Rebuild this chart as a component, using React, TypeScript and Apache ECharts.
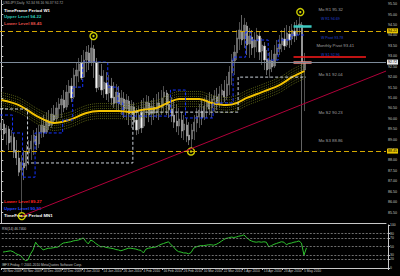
import React, { useEffect, useRef } from 'react';
import * as echarts from 'echarts';

const FONT = 'Liberation Sans, Arial, sans-serif';
const N_SLOTS = 154;

// Daily candles: [open, close, low, high]
const ohlc: number[][] = [
  [89.46, 89.80, 89.22, 90.04], [89.75, 89.27, 88.98, 89.94], [89.32, 89.56, 88.74, 89.70], [89.51, 88.84, 88.50, 89.65],
  [88.88, 89.17, 88.50, 89.46], [89.12, 88.40, 88.12, 89.32], [88.50, 88.12, 87.78, 88.98], [88.12, 87.44, 87.25, 88.50],
  [87.54, 87.92, 85.52, 88.26], [87.88, 87.64, 87.06, 88.50], [87.73, 88.40, 87.54, 88.74], [88.36, 88.60, 87.78, 88.98],
  [88.55, 88.93, 88.02, 89.22], [88.88, 89.22, 88.26, 89.46], [89.17, 88.74, 88.50, 89.56], [88.79, 89.36, 88.60, 89.70],
  [89.36, 89.70, 89.08, 90.04], [89.65, 89.32, 89.12, 90.18], [89.36, 89.94, 89.27, 90.32], [89.89, 89.65, 89.46, 90.42],
  [89.70, 90.23, 89.56, 90.52], [90.18, 89.94, 89.75, 90.66], [89.99, 90.52, 89.84, 90.80], [90.47, 90.71, 90.04, 91.00],
  [90.66, 90.95, 90.04, 91.14], [90.90, 90.52, 90.32, 91.38], [90.56, 91.28, 90.42, 91.62], [91.24, 91.57, 90.66, 91.86],
  [91.57, 91.00, 90.80, 91.96], [91.04, 92.10, 90.95, 92.44], [92.05, 92.34, 91.48, 92.72], [92.29, 92.63, 91.76, 92.92],
  [92.68, 91.96, 91.86, 93.06], [92.00, 92.82, 91.96, 93.30], [92.82, 93.20, 92.24, 93.49], [93.16, 92.68, 92.34, 93.54],
  [92.72, 93.40, 92.53, 93.88], [93.35, 92.72, 91.96, 93.54], [92.72, 91.48, 91.28, 92.92], [91.52, 92.10, 91.38, 92.72],
  [92.05, 91.38, 91.14, 92.63], [91.43, 91.76, 91.00, 92.34], [91.72, 91.19, 90.90, 92.24], [91.24, 91.62, 90.80, 92.10],
  [91.57, 91.00, 90.66, 91.96], [91.04, 90.71, 90.52, 91.76], [90.76, 91.28, 90.42, 91.67], [91.24, 90.71, 90.32, 91.57],
  [90.66, 91.00, 90.18, 91.38], [90.95, 90.42, 90.04, 91.28], [90.47, 90.90, 89.94, 91.19], [90.85, 90.23, 89.70, 91.09],
  [90.28, 90.61, 89.56, 90.90], [90.56, 89.84, 89.46, 90.80], [89.94, 89.46, 89.22, 90.52], [89.51, 90.18, 89.27, 90.61],
  [90.28, 89.56, 89.32, 90.90], [89.65, 90.52, 89.56, 91.00], [90.47, 90.80, 90.04, 91.14], [90.76, 90.18, 89.84, 91.09],
  [90.23, 90.61, 89.70, 90.90], [90.56, 90.28, 89.94, 91.00], [90.32, 90.76, 90.04, 91.19], [90.76, 90.52, 89.94, 91.28],
  [90.52, 91.00, 90.18, 91.38], [91.04, 91.28, 90.32, 91.57], [91.24, 90.66, 90.18, 91.38], [90.71, 90.42, 90.04, 91.19],
  [90.47, 90.13, 89.84, 91.04], [90.18, 89.84, 89.56, 90.90], [89.89, 89.65, 89.36, 90.71], [89.65, 89.99, 89.22, 90.52],
  [89.94, 89.41, 89.08, 90.32], [89.46, 89.75, 88.98, 90.18], [89.70, 89.17, 88.88, 90.04], [89.22, 88.98, 88.74, 89.84],
  [89.03, 89.46, 88.60, 89.75], [89.41, 89.84, 88.98, 90.18], [89.80, 90.13, 89.36, 90.52], [90.08, 90.42, 89.56, 90.71],
  [90.37, 90.04, 89.70, 90.90], [90.08, 90.61, 89.94, 91.00], [90.56, 90.90, 90.04, 91.14], [90.85, 90.47, 90.18, 91.28],
  [90.52, 90.95, 90.04, 91.19], [90.90, 91.09, 90.32, 91.38], [91.04, 90.71, 90.42, 91.48], [90.76, 91.19, 90.52, 91.57],
  [91.14, 91.38, 90.66, 91.67], [91.33, 91.04, 90.80, 91.86], [91.09, 91.67, 90.90, 92.05], [91.62, 92.24, 91.14, 92.53],
  [92.20, 92.82, 91.62, 93.11], [92.77, 93.20, 92.10, 93.54], [93.16, 93.88, 92.82, 94.26], [93.83, 94.26, 93.30, 94.64],
  [94.21, 93.78, 93.54, 94.98], [93.83, 94.50, 93.40, 94.84], [94.45, 93.54, 93.06, 94.64], [93.59, 93.97, 92.92, 94.36],
  [93.92, 93.40, 93.06, 94.26], [93.44, 93.78, 92.92, 94.16], [93.73, 94.02, 93.20, 94.36], [93.97, 93.20, 92.82, 94.16],
  [93.25, 93.54, 92.58, 93.88], [93.49, 92.82, 92.34, 93.68], [92.87, 92.34, 92.10, 93.30], [92.39, 92.82, 91.96, 93.20],
  [92.77, 92.48, 92.24, 93.30], [92.53, 93.11, 92.44, 93.54], [93.06, 93.40, 92.82, 93.78], [93.35, 93.59, 93.06, 94.02],
  [93.54, 93.88, 93.20, 94.26], [93.83, 93.49, 93.30, 94.36], [93.54, 94.12, 93.44, 94.50], [94.07, 93.78, 93.40, 94.45],
  [93.83, 94.26, 93.54, 94.55], [94.21, 93.97, 93.68, 94.64], [94.02, 94.45, 93.78, 94.74], [94.40, 94.55, 94.02, 94.88],
  [94.50, 92.72, 88.40, 94.64], [92.34, 92.72, 90.37, 93.16],
];

const rsi: number[] = [
  37, 38, 39, 40, 38, 34, 31, 29, 22, 17, 19, 33, 42, 60, 52, 48, 42, 44, 46, 46,
  47, 48, 49, 54, 58, 59, 60, 61, 63, 64, 65, 67, 70, 62, 56, 65, 62, 57, 53, 49,
  50, 48, 47, 46, 45, 43, 42, 40, 42, 44, 46, 46, 45, 44, 42, 41, 35, 44, 46, 47,
  48, 49, 52, 55, 57, 59, 61, 54, 49, 42, 38, 37, 35, 35, 33, 36, 46, 49, 51, 52,
  52, 53, 54, 54, 53, 55, 58, 62, 66, 69, 70, 72, 71, 72, 74, 75, 77, 72, 66, 63,
  61, 60, 61, 60, 61, 60, 49, 52, 55, 57, 59, 61, 60, 54, 57, 58, 60, 61, 63, 58,
  30, 46.74,
];

// Moving average read at chosen bars: [bar, price]
const maPoints: number[][] = [
  [0, 90.90], [7, 90.66], [15, 90.08], [21, 89.80], [27, 89.94], [34, 90.28], [39, 90.37], [47, 90.37],
  [52, 90.32], [56, 90.42], [62, 90.52], [67, 90.80], [71, 90.95], [79, 90.95], [84, 90.76], [90, 90.66],
  [94, 90.76], [98, 91.00], [104, 91.28], [111, 91.62], [116, 92.00], [120, 92.24], [121, 92.29],
];
const bandOffsets = [-0.36, -0.24, -0.12, 0.12, 0.24, 0.36];

// Step levels: [first bar, last bar, price]
const blueSteps: number[][] = [
  [0, 4, 90.18], [5, 8, 89.32], [9, 13, 87.20], [14, 24, 89.32], [25, 28, 89.94], [29, 32, 91.52],
  [33, 42, 92.72], [43, 46, 91.52], [47, 48, 90.76], [49, 67, 90.13], [68, 73, 91.38], [74, 84, 90.04],
  [85, 92, 90.76], [93, 97, 92.96], [98, 99, 94.16], [100, 106, 93.78], [107, 110, 92.82], [111, 115, 93.78],
  [116, 121, 94.02],
];
const graySteps: number[][] = [[0, 10, 90.47], [11, 52, 87.88], [53, 94, 90.32], [95, 121, 92.00]];

const dateTickIdx = [0, 8, 16, 24, 32, 40, 48, 56, 64, 72, 80, 88, 96, 104, 112, 120];
const dateTicks = [
  '20 Nov 2009', '30 Nov 2009', '10 Dec 2009', '22 Dec 2009', '4 Jan 2010', '14 Jan 2010', '26 Jan 2010',
  '4 Feb 2010', '16 Feb 2010', '26 Feb 2010', '10 Mar 2010', '22 Mar 2010', '1 Apr 2010', '13 Apr 2010',
  '23 Apr 2010', '5 May 2010',
];

const rsiTicks = [0, 20, 30, 50, 70, 80, 100];
const rsiLevels = [20, 30, 50, 70, 80];

const upperLevel = 94.22;
const lowerLevel = 88.45;
const bidPrice = 92.72;
const mnUpper = 90.91;
const mnLower = 89.27;

const monthNames = ['Mo R1 95.32', 'Monthly Pivot 93.41', 'Mo S1 92.04', 'Mo S2 90.23', 'Mo S3 88.86'];
const monthLevels = [95.32, 93.41, 92.04, 90.23, 88.86];
const weekNames = ['W R1 94.69', 'W Pivot 93.78', 'W S1 92.96'];
const weekLevels = [94.69, 93.78, 92.96];

const markers: number[][] = [[8.2, 85.33], [36.8, 93.97], [75.7, 88.43], [119.3, 95.12]];
const trendLine: number[][] = [[8.2, 85.33], [153.5, 92.29]];
const redLevel: number[][] = [[116.6, 92.96], [145.5, 92.96]];
const cyanLevel: number[][] = [[116.6, 94.43], [123.8, 94.43]];
const salmonLevel: number[][] = [[116.6, 92.70], [123.8, 92.70]];

function stepPoints(steps: number[][]) {
  const pts: number[][] = [];
  steps.forEach(([s, e, p]) => {
    pts.push([s - 0.5, p]);
    pts.push([e + 0.5, p]);
  });
  return pts;
}

const cats = Array.from({ length: N_SLOTS }, (_, i) => String(i));
const tickSet = new Set(dateTickIdx);

function overlay(data: any[], color: string, width: number, type: any = 'solid', extra: any = {}) {
  return {
    type: 'line', xAxisIndex: 1, yAxisIndex: 0, data, symbol: 'none', silent: true,
    lineStyle: { color, width, type }, ...extra,
  };
}

function text(x: number, y: number, t: string, fill: string, size: number, bold = false) {
  return {
    type: 'text', x, y, silent: true,
    style: { text: t, fill, fontSize: size, fontFamily: FONT, fontWeight: bold ? 'bold' : 'normal', verticalAlign: 'middle' },
  };
}

function buildOption() {
  const grey = '#c8c8c8';
  const series: any[] = [
    {
      type: 'candlestick', xAxisIndex: 0, yAxisIndex: 0, data: ohlc, barWidth: 1.8, silent: true,
      itemStyle: { color: '#7a7a7a', color0: '#f4f4f4', borderColor: '#858585', borderColor0: '#a8a8a8', borderWidth: 0.6 },
    },
  ];
  bandOffsets.forEach((off) => {
    series.push(overlay(maPoints.map(([i, v]) => [i, +(v + off).toFixed(2)]), '#6a7419', 0.8, [1, 1], { smooth: 0.3 }));
  });
  series.push(overlay(maPoints, '#f2c200', 2, 'solid', { smooth: 0.3 }));
  series.push(overlay(stepPoints(graySteps), '#c9d0d8', 1, [3, 2]));
  series.push(overlay(stepPoints(blueSteps), '#1533ff', 1, [3, 2]));
  series.push(
    overlay(trendLine, '#b0003a', 1, 'solid', {
      markLine: {
        silent: true, symbol: 'none', animation: false,
        label: { show: true, position: 'end', distance: 1, fontSize: 3.6, fontFamily: FONT, padding: [0.5, 1] },
        data: [
          { yAxis: upperLevel, lineStyle: { color: '#d4a800', type: [5, 3], width: 1 },
            label: { formatter: upperLevel.toFixed(2), backgroundColor: '#e8c400', color: '#000' } },
          { yAxis: lowerLevel, lineStyle: { color: '#d4a800', type: [5, 3], width: 1 },
            label: { formatter: lowerLevel.toFixed(2), backgroundColor: '#e8c400', color: '#000' } },
          { yAxis: bidPrice, lineStyle: { color: '#7d8a99', type: 'solid', width: 1 },
            label: { formatter: bidPrice.toFixed(2), backgroundColor: '#ececec', color: '#000' } },
        ],
      },
    })
  );
  series.push(overlay(redLevel, '#ff1a1a', 1.5));
  series.push(overlay(cyanLevel, '#3cc8c0', 2.5));
  series.push(overlay(salmonLevel, '#f08a80', 2.5));
  series.push({
    type: 'scatter', xAxisIndex: 1, yAxisIndex: 0, data: markers, symbol: 'circle', symbolSize: 7, silent: true,
    itemStyle: { color: 'rgba(0,0,0,0)', borderColor: '#ffff00', borderWidth: 1.4 },
  });
  series.push({
    type: 'scatter', xAxisIndex: 1, yAxisIndex: 0, data: markers, symbol: 'circle', symbolSize: 2.4, silent: true,
    itemStyle: { color: '#ffff00' },
  });
  series.push({
    type: 'scatter', xAxisIndex: 1, yAxisIndex: 0, silent: true, symbolSize: 0.1,
    data: monthLevels.map((v, k) => ({
      value: [k === 1 ? 125.7 : 126.5, v], name: monthNames[k],
      label: { offset: [0, k === 0 ? 2 : -2] },
    })),
    itemStyle: { color: 'rgba(0,0,0,0)' },
    label: { show: true, position: 'right', distance: 0, formatter: (p: any) => p.name, color: '#c8c8c8', fontSize: 4.3, fontFamily: FONT },
  });
  series.push({
    type: 'scatter', xAxisIndex: 1, yAxisIndex: 0, silent: true, symbolSize: 0.1,
    data: weekLevels.map((v, k) => ({ value: [127.5, v], name: weekNames[k] })),
    itemStyle: { color: 'rgba(0,0,0,0)' },
    label: { show: true, position: 'right', distance: 0, offset: [0, -2], formatter: (p: any) => p.name, color: '#2d55ff', fontSize: 3.6, fontFamily: FONT },
  });
  series.push({
    type: 'line', xAxisIndex: 2, yAxisIndex: 1, data: rsi, symbol: 'none', silent: true,
    lineStyle: { color: '#2fc42f', width: 1 },
    markLine: {
      silent: true, symbol: 'none', animation: false, label: { show: false },
      lineStyle: { color: '#8c8c8c', type: [2, 1.5], width: 0.8 },
      data: rsiLevels.map((v) => ({ yAxis: v })),
    },
  });

  return {
    animation: false,
    backgroundColor: '#000000',
    textStyle: { fontFamily: FONT },
    grid: [
      { left: 0, top: 0, width: 388, height: 223 },
      { left: 0, top: 225, width: 388, height: 43 },
    ],
    xAxis: [
      {
        type: 'category', gridIndex: 0, data: cats,
        axisLine: { show: true, lineStyle: { color: grey, width: 1 } },
        axisTick: { show: false }, axisLabel: { show: false }, splitLine: { show: false },
      },
      { type: 'value', gridIndex: 0, min: -0.5, max: N_SLOTS - 0.5, show: false },
      {
        type: 'category', gridIndex: 1, data: cats,
        axisLine: { show: true, lineStyle: { color: grey, width: 1 } },
        axisTick: { show: true, interval: (i: number) => tickSet.has(i), length: 2, lineStyle: { color: grey } },
        axisLabel: {
          interval: (i: number) => tickSet.has(i),
          formatter: (_v: string, i: number) => dateTicks[dateTickIdx.indexOf(i)] || '',
          align: 'left', fontSize: 3.3, color: grey, margin: 1.5, fontFamily: FONT,
        },
        splitLine: { show: false },
      },
    ],
    yAxis: [
      {
        type: 'value', gridIndex: 0, position: 'right', min: 85, max: 95.7, interval: 0.5,
        axisLine: { show: true, lineStyle: { color: grey, width: 1 } },
        axisTick: { show: true, length: 2, lineStyle: { color: grey } },
        axisLabel: { fontSize: 3.6, color: grey, margin: 2, showMaxLabel: false, showMinLabel: false, fontFamily: FONT, formatter: (v: number) => v.toFixed(2) },
        splitLine: { show: false },
      },
      {
        type: 'value', gridIndex: 1, position: 'right', min: 0, max: 100,
        axisLine: { show: true, lineStyle: { color: grey, width: 1 } },
        axisTick: { show: true, length: 2, customValues: rsiTicks, lineStyle: { color: grey } },
        axisLabel: { fontSize: 3.4, color: grey, margin: 2, customValues: rsiTicks, fontFamily: FONT },
        splitLine: { show: false },
      },
    ],
    series,
    graphic: [
      text(3, 3, 'USDJPY,Daily  92.34 93.16 90.37 92.72', '#a8a8a8', 3.4),
      text(4, 10, 'TimeFrame Period W1', '#ffffff', 4.4, true),
      text(4, 16.5, `Upper Level ${upperLevel.toFixed(2)}`, '#2ec4b6', 4.4, true),
      text(4, 23, `Lower Level ${lowerLevel.toFixed(2)}`, '#e0504a', 4.4, true),
      text(4, 201, `Lower Level ${mnLower.toFixed(2)}`, '#ff2020', 4.4, true),
      text(4, 208, `Upper Level ${mnUpper.toFixed(2)}`, '#2444ff', 4.4, true),
      text(4, 215, 'TimeFrame Period MN1', '#ffffff', 4.4, true),
      text(2, 229, `RSI(14) ${rsi[rsi.length - 1].toFixed(4)}`, '#c8c8c8', 3.3),
      text(2, 264.5, 'IBFX Friday, © 2001-2010 MetaQuotes Software Corp.', '#c8c8c8', 3.3),
    ],
  };
}

export default function App() {
  const ref = useRef<HTMLDivElement>(null);
  useEffect(() => {
    if (!ref.current) return;
    const chart = echarts.init(ref.current, null, { renderer: 'svg' });
    chart.setOption(buildOption() as any);
    return () => chart.dispose();
  }, []);
  return (
    <div
      ref={ref}
      style={{ position: 'fixed', left: 0, top: 0, width: 400, height: 276, background: '#000' }}
    />
  );
}
